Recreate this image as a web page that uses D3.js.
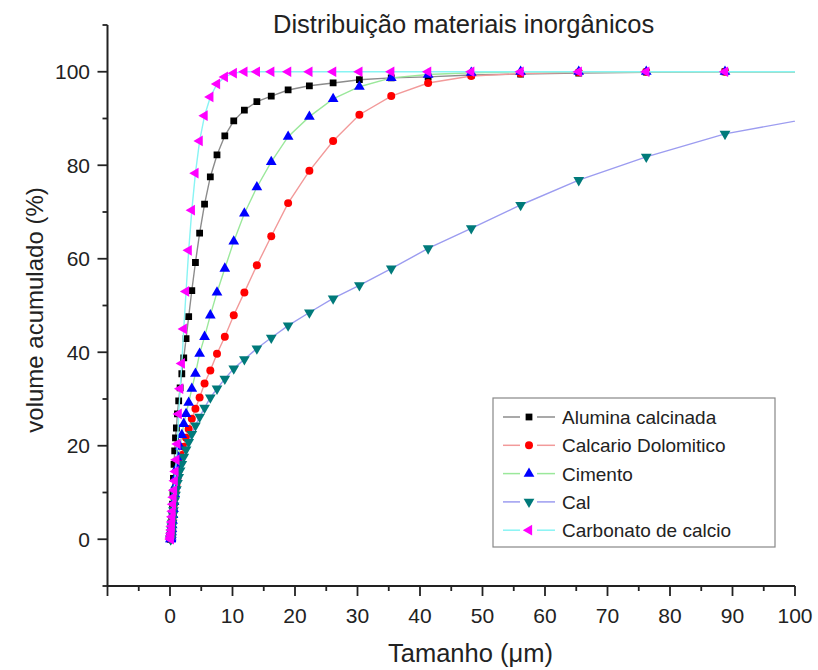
<!DOCTYPE html>
<html>
<head>
<meta charset="utf-8">
<script src="https://cdn.jsdelivr.net/npm/d3@7"></script>
<style>
  body { margin: 0; background: #fff; }
  text { font-family: "Liberation Sans", Arial, sans-serif; fill: #222; }
</style>
</head>
<body>
<div id="my_dataviz"></div>
<script>
// particle sizes (µm), shared by all series
const sizes = [0.102, 0.119, 0.139, 0.162, 0.189, 0.22, 0.257, 0.299, 0.349, 0.407,
  0.474, 0.553, 0.645, 0.752, 0.877, 1.02, 1.19, 1.39, 1.62, 1.89,
  2.2, 2.57, 2.99, 3.49, 4.07, 4.74, 5.53, 6.45, 7.52, 8.77,
  10.2, 11.9, 13.9, 16.2, 18.9, 22.3, 26.1, 30.3, 35.4, 41.3,
  48.2, 56.1, 65.4, 76.2, 88.8, 103.5];

const alumina = [0, 0.1, 0.3, 0.6, 1.1, 1.8, 2.8, 4, 5.5, 7.5,
  10, 13, 16, 18.9, 21.7, 23.8, 26.8, 29.6, 32.4, 35.4,
  38.8, 42.9, 47.6, 53.2, 59.2, 65.5, 71.7, 77.5, 82.2, 86.3,
  89.5, 91.8, 93.6, 94.8, 96.1, 97.0, 97.6, 98.3, 98.7, 98.9,
  99.3, 99.5, 99.7, 99.9, 100, 100];

const calcario = [0, 0, 0.2, 0.4, 0.8, 1.2, 1.8, 2.5, 3.3, 4.2,
  5.2, 6.3, 7.5, 8.8, 10.2, 11.6, 13.1, 14.7, 16.3, 18,
  19.8, 21.7, 23.6, 25.8, 27.9, 30.3, 33.3, 36.1, 39.7, 43.3,
  47.9, 52.8, 58.6, 64.8, 71.9, 78.8, 85.2, 90.8, 94.8, 97.6,
  99.1, 99.6, 99.9, 100, 100, 100];

const cimento = [0, 0, 0.1, 0.3, 0.6, 1, 1.5, 2.2, 3, 4,
  5.2, 6.5, 8, 9.7, 11.5, 13.5, 15.5, 17.5, 19.8, 22.3,
  24.7, 26.8, 29.2, 32.2, 35.4, 39.7, 43.3, 47.9, 52.8, 57.9,
  63.7, 69.7, 75.3, 80.7, 86.1, 90.4, 94.2, 96.8, 98.7, 99.4,
  99.8, 100, 100, 100, 100, 100];

const cal = [0, 0, 0.2, 0.5, 0.9, 1.4, 2, 2.7, 3.5, 4.3,
  5.2, 6.2, 7.2, 8.3, 9.5, 10.7, 12, 13.3, 14.7, 16.1,
  17.6, 19.2, 20.8, 22.5, 24.3, 26.2, 28.1, 30.3, 32.2, 34.3,
  36.5, 38.5, 40.8, 43.1, 45.7, 48.5, 51.5, 54.3, 57.9, 62.2,
  66.5, 71.5, 76.8, 81.8, 86.7, 90.3];

const carbonato = [0, 0.1, 0.4, 0.8, 1.3, 2, 2.8, 3.7, 4.8, 6,
  7.5, 9, 10.5, 12.5, 14.5, 17, 20.4, 26.8, 32.2, 37.6,
  45, 53, 61.8, 70.4, 78.3, 85.2, 90.6, 94.6, 97.4, 98.9,
  99.7, 100, 100, 100, 100, 100, 100, 100, 100, 100,
  100, 100, 100, 100, 100, 100];

const seriesNames = ["Alumina calcinada", "Calcario Dolomitico", "Cimento", "Cal", "Carbonato de calcio"];
const xTicks = [-10, 0, 10, 20, 30, 40, 50, 60, 70, 80, 90, 100];
const yTicks = [0, 20, 40, 60, 80, 100];

(function() {

const width = 818,
height = 670;
const margin = {top: 25, right: 23, bottom: 84, left: 107.5};

const svg = d3.select("#my_dataviz")
  .append("svg")
  .attr("width", width)
  .attr("height", height);

const x = d3.scaleLinear().domain([-10, 100]).range([margin.left, width - margin.right]);
const y = d3.scaleLinear().domain([-10, 110]).range([height - margin.bottom, margin.top]);

const styles = [
  {line: "#8c8c8c", fill: "#000000", sym: d3.symbolSquare, size: 46, rot: 0},
  {line: "#f29a9a", fill: "#ff0000", sym: d3.symbolCircle, size: 50, rot: 0},
  {line: "#9be89b", fill: "#0000ff", sym: d3.symbolTriangle, size: 50, rot: 0},
  {line: "#9c9cf0", fill: "#007a7a", sym: d3.symbolTriangle, size: 50, rot: 180},
  {line: "#88f4f4", fill: "#ff00ff", sym: d3.symbolTriangle, size: 50, rot: -90}
];

const allValues = [alumina, calcario, cimento, cal, carbonato];
const series = allValues.map((vals, i) => ({
  name: seriesNames[i],
  style: styles[i],
  points: sizes.map((s, j) => ({x: s, y: vals[j]}))
}));

svg.append("clipPath")
  .attr("id", "plotclip")
  .append("rect")
  .attr("x", x(-10))
  .attr("y", y(110))
  .attr("width", x(100) - x(-10))
  .attr("height", y(-10) - y(110));

const line = d3.line()
  .x(d => x(d.x))
  .y(d => y(d.y));

const plot = svg.append("g").attr("clip-path", "url(#plotclip)");

series.forEach(s => {
  const g = plot.append("g");
  g.append("path")
    .datum(s.points)
    .attr("fill", "none")
    .attr("stroke", s.style.line)
    .attr("stroke-width", 1.4)
    .attr("d", line);
  g.selectAll("path.pt")
    .data(s.points)
    .join("path")
    .attr("class", "pt")
    .attr("d", d3.symbol(s.style.sym, s.style.size))
    .attr("fill", s.style.fill)
    .attr("transform", d => `translate(${x(d.x)},${y(d.y)}) rotate(${s.style.rot})`);
});

// axes
const axisColor = "#222";
const xAxis = svg.append("g")
  .attr("transform", `translate(0,${y(-10)})`);
xAxis.append("line")
  .attr("x1", x(-10)).attr("x2", x(100))
  .attr("stroke", axisColor).attr("stroke-width", 2);
xAxis.selectAll("line.major")
  .data(xTicks)
  .join("line")
  .attr("class", "major")
  .attr("x1", d => x(d)).attr("x2", d => x(d))
  .attr("y1", 0).attr("y2", 10)
  .attr("stroke", axisColor).attr("stroke-width", 1.8);
xAxis.selectAll("line.minor")
  .data(d3.range(-5, 100, 10))
  .join("line")
  .attr("class", "minor")
  .attr("x1", d => x(d)).attr("x2", d => x(d))
  .attr("y1", 0).attr("y2", 5)
  .attr("stroke", axisColor).attr("stroke-width", 1.8);
xAxis.selectAll("text")
  .data(xTicks.filter(d => d >= 0))
  .join("text")
  .attr("x", d => x(d))
  .attr("y", 37)
  .attr("text-anchor", "middle")
  .attr("font-size", 21)
  .text(d => d);

const yAxis = svg.append("g")
  .attr("transform", `translate(${x(-10)},0)`);
yAxis.append("line")
  .attr("y1", y(-10)).attr("y2", y(110))
  .attr("stroke", axisColor).attr("stroke-width", 2);
yAxis.selectAll("line.major")
  .data(yTicks)
  .join("line")
  .attr("class", "major")
  .attr("y1", d => y(d)).attr("y2", d => y(d))
  .attr("x1", 0).attr("x2", -10)
  .attr("stroke", axisColor).attr("stroke-width", 1.8);
yAxis.selectAll("line.minor")
  .data(d3.range(-10, 111, 20))
  .join("line")
  .attr("class", "minor")
  .attr("y1", d => y(d)).attr("y2", d => y(d))
  .attr("x1", 0).attr("x2", -5)
  .attr("stroke", axisColor).attr("stroke-width", 1.8);
yAxis.selectAll("text")
  .data(yTicks)
  .join("text")
  .attr("x", -17.5)
  .attr("y", d => y(d) + 7.5)
  .attr("text-anchor", "end")
  .attr("font-size", 21)
  .text(d => d);

// titles
svg.append("text")
  .attr("x", 273)
  .attr("y", 33)
  .attr("font-size", 25.5)
  .text("Distribuição materiais inorgânicos");

svg.append("text")
  .attr("x", 388)
  .attr("y", 662)
  .attr("font-size", 25.5)
  .text("Tamanho (μm)");

svg.append("text")
  .attr("transform", `translate(43,310) rotate(-90)`)
  .attr("text-anchor", "middle")
  .attr("font-size", 24)
  .text("volume acumulado (%)");

// legend
const legend = svg.append("g").attr("transform", "translate(493,398)");
legend.append("rect")
  .attr("width", 282)
  .attr("height", 149)
  .attr("fill", "#fff")
  .attr("stroke", "#888")
  .attr("stroke-width", 1.2);

const rows = legend.selectAll("g.row")
  .data(series)
  .join("g")
  .attr("class", "row")
  .attr("transform", (d, i) => `translate(0,${19 + i * 28.3})`);
rows.append("line")
  .attr("x1", 10).attr("x2", 27)
  .attr("stroke", d => d.style.line).attr("stroke-width", 1.5);
rows.append("line")
  .attr("x1", 44).attr("x2", 62)
  .attr("stroke", d => d.style.line).attr("stroke-width", 1.5);
rows.append("path")
  .attr("d", d => d3.symbol(d.style.sym, d.style.size)())
  .attr("fill", d => d.style.fill)
  .attr("transform", d => `translate(36,0) rotate(${d.style.rot})`);
rows.append("text")
  .attr("x", 69)
  .attr("y", 7)
  .attr("font-size", 19)
  .text(d => d.name);

})();
</script>
</body>
</html>
